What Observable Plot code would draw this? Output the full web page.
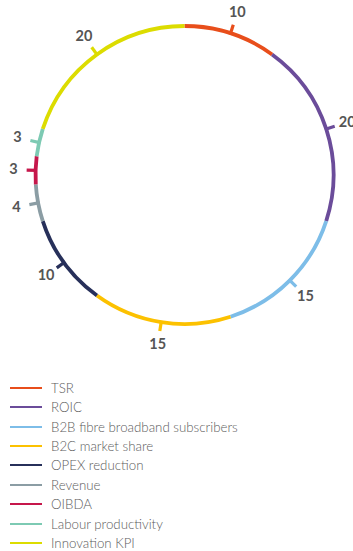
<!DOCTYPE html>
<html>
<head>
<meta charset="utf-8">
<script src="https://cdn.jsdelivr.net/npm/d3@7"></script>
<script src="https://cdn.jsdelivr.net/npm/@observablehq/plot@0.6"></script>
<style>
  html, body { margin: 0; padding: 0; background: #fff; }
  #chart svg { display: block; }
  #legend { margin-top: 8px; font-family: Lato, "Open Sans", sans-serif; font-weight: 300; font-size: 13.3px; color: #5c5c5c; }
  .row { display: flex; align-items: center; height: 19.45px; }
  .swatch { width: 32px; height: 0; border-top: 2.6px solid; margin-left: 10px; margin-right: 9px; }
</style>
</head>
<body>
<div id="chart"></div>
<div id="legend"></div>
<script>
// KPI weights, clockwise from the top of the ring
const kpis = ["TSR", "ROIC", "B2B fibre broadband subscribers", "B2C market share", "OPEX reduction", "Revenue", "OIBDA", "Labour productivity", "Innovation KPI"];
const weights = [10, 20, 15, 15, 10, 4, 3, 3, 20];
const colors = ["#e84e1b", "#6b4c9a", "#7dbde8", "#fcc100", "#27305a", "#8b9da4", "#c6174b", "#7dcab3", "#dcdc00"];

const total = d3.sum(weights);
const ends = d3.cumsum(weights);
const rows = kpis.map((kpi, i) => {
  const start = ends[i] - weights[i];
  const a0 = (start / total) * 2 * Math.PI;
  const a1 = (ends[i] / total) * 2 * Math.PI;
  const am = (a0 + a1) / 2;
  return {kpi, weight: weights[i], color: colors[i], a0, a1, am, sweep: ((a1 - a0) * 180) / Math.PI};
});
const px = (a, r) => r * Math.sin(a);
const py = (a, r) => r * Math.cos(a);

const tickOuter = 1.06;
const labelR = 1.148;

const marks = [
  // one arc per KPI, sized by its weight
  ...rows.map((d) => Plot.arrow([d], {
    x1: (d) => px(d.a0, 1), y1: (d) => py(d.a0, 1),
    x2: (d) => px(d.a1, 1), y2: (d) => py(d.a1, 1),
    bend: d.sweep / 2, headLength: 0,
    stroke: "color", strokeWidth: 3.8, strokeLinecap: "butt"
  })),
  // outward tick at the middle of each arc
  Plot.link(rows, {
    x1: (d) => px(d.am, 0.99), y1: (d) => py(d.am, 0.99),
    x2: (d) => px(d.am, tickOuter), y2: (d) => py(d.am, tickOuter),
    stroke: "color", strokeWidth: 3.2, strokeLinecap: "butt"
  }),
  // weight labels
  Plot.text(rows, {
    x: (d) => px(d.am, labelR), y: (d) => py(d.am, labelR),
    text: (d) => String(d.weight),
    fill: "#555555", fontSize: 14.5, fontWeight: 700,
    fontFamily: "Lato, 'Open Sans', sans-serif",
    textAnchor: "middle", lineAnchor: "middle"
  })
];

const chart = Plot.plot({
  width: 353,
  height: 370,
  x: {domain: [-1, 1], range: [35, 333], axis: null},
  y: {domain: [-1, 1], range: [323.5, 25.5], axis: null},
  color: {type: "identity"},
  marks
});
document.getElementById("chart").append(chart);

const legend = document.getElementById("legend");
for (const d of rows) {
  const row = document.createElement("div");
  row.className = "row";
  const sw = document.createElement("span");
  sw.className = "swatch";
  sw.style.borderColor = d.color;
  const label = document.createElement("span");
  label.textContent = d.kpi;
  row.append(sw, label);
  legend.append(row);
}
</script>
</body>
</html>
